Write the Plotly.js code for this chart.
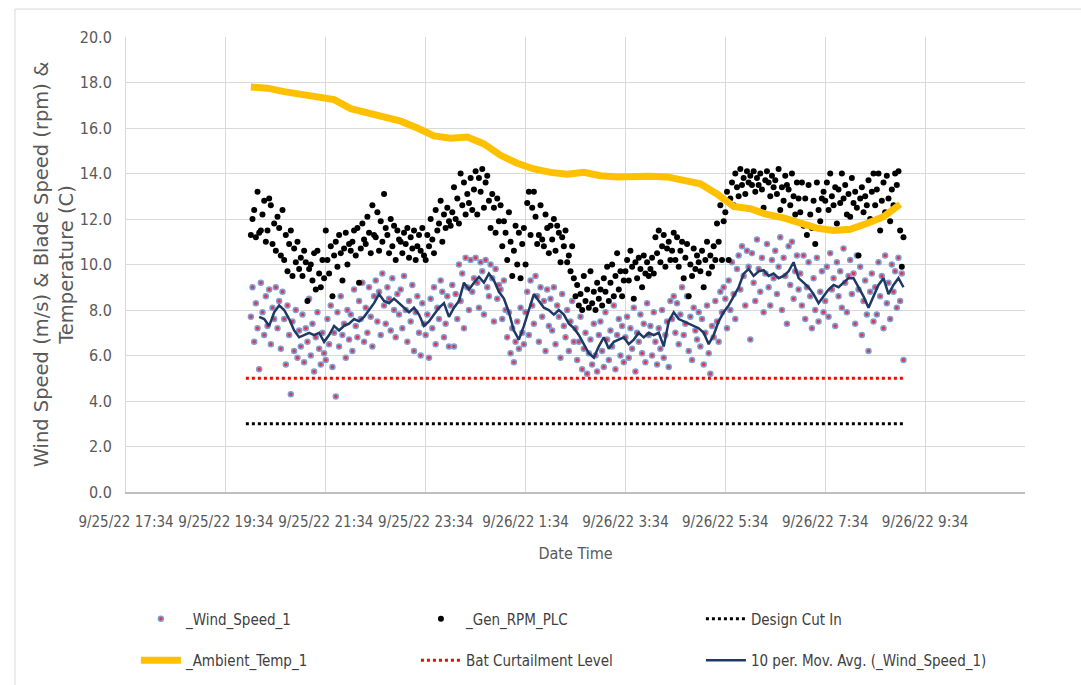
<!DOCTYPE html>
<html>
<head>
<meta charset="utf-8">
<script src="https://cdn.plot.ly/plotly-3.0.1.min.js"></script>
<style>html,body{margin:0;padding:0;background:#fff;}#chart{width:1081px;height:685px;}</style>
</head>
<body>
<div id="chart"></div>
<script>
// ---- data ----
const seriesStart = '2022-09-25 20:04';   // first logged sample
const sampleStepMin = 2;                   // minutes between plotted samples

const windSpeed = [
  7.7, 9.0, 6.6, 8.3, 7.2, 5.4, 9.2, 7.9, 6.9, 8.6, 7.3, 8.9, 6.5, 8.1, 7.6,
  9.0, 7.2, 8.4, 6.3, 8.8, 7.6, 5.6, 8.2, 6.9, 4.3, 7.5, 6.2, 8.0, 5.9, 7.1,
  6.4, 7.8, 5.7, 7.2, 6.6, 8.5, 6.0, 7.4, 5.3, 6.8, 7.9, 6.3, 5.6, 7.0, 6.1,
  5.8, 7.6, 6.5, 8.2, 5.5, 7.0, 4.2, 7.9, 6.4, 8.6, 6.9, 7.4, 5.9, 8.0, 6.7,
  7.8, 6.2, 8.9, 7.3, 6.8, 8.4, 7.6, 9.2, 6.6, 8.1, 7.0, 9.0, 7.7, 6.4, 8.6,
  9.3, 7.5, 8.8, 6.9, 9.6, 8.2, 7.4, 9.0, 8.5, 7.1, 9.4, 8.0, 6.8, 8.7, 7.8,
  8.9, 7.2, 9.5, 8.0, 6.6, 8.4, 7.5, 9.1, 6.2, 7.9, 8.6, 7.0, 6.0, 8.3, 7.4,
  6.9, 7.8, 5.9, 8.5, 7.2, 9.0, 6.5, 8.1, 7.6, 9.3, 8.8, 6.8, 7.4, 8.6, 6.4,
  8.2, 9.1, 6.4, 8.7, 7.6, 10.0, 8.4, 9.6, 7.2, 10.3, 9.0, 8.0, 10.2, 8.8, 9.4,
  10.3, 9.2, 8.1, 10.1, 9.7, 7.8, 10.2, 9.0, 8.6, 10.0, 9.4, 7.5, 9.8, 8.5, 9.1,
  8.9, 7.6, 9.3, 8.0, 6.8, 7.9, 6.1, 7.2, 5.7, 6.6, 7.5, 6.3, 8.1, 7.0, 6.5,
  7.9, 8.8, 6.9, 9.3, 8.2, 7.4, 9.5, 8.6, 6.6, 9.0, 7.7, 8.4, 6.2, 8.9, 7.3,
  8.5, 7.1, 9.0, 6.5, 8.2, 7.7, 5.9, 8.7, 7.3, 6.8, 8.0, 6.2, 7.5, 8.4, 6.6,
  7.2, 5.8, 6.6, 7.7, 5.4, 6.3, 7.0, 5.2, 6.1, 6.7, 5.6, 7.4, 6.0, 5.3, 6.9,
  7.5, 6.2, 5.5, 7.9, 6.7, 5.8, 7.1, 6.4, 8.2, 5.4, 6.9, 7.6, 6.0, 7.3, 5.7,
  6.8, 7.7, 5.9, 7.2, 6.3, 8.1, 5.3, 7.0, 6.6, 7.8, 6.1, 7.4, 5.7, 8.3, 6.9,
  7.3, 6.0, 7.9, 6.6, 5.6, 7.2, 6.3, 8.0, 5.9, 6.9, 7.5, 5.5, 8.4, 7.6, 8.6,
  7.0, 8.3, 6.5, 7.8, 9.0, 6.9, 7.4, 8.6, 6.2, 7.7, 5.8, 8.1, 7.1, 6.7, 7.9,
  6.4, 7.6, 5.6, 7.0, 8.2, 6.1, 5.2, 7.3, 6.8, 8.4, 7.5, 6.6, 8.8, 7.9, 9.0,
  8.5, 7.2, 9.3, 8.0, 10.1, 8.7, 7.6, 9.8, 10.4, 8.9, 10.8, 9.5, 8.2, 10.6, 9.9,
  6.7, 10.5, 9.2, 8.4, 11.1, 9.8, 8.8, 10.3, 7.9, 9.6, 10.9, 9.0, 8.2, 10.2, 9.4,
  10.6, 8.7, 9.9, 11.2, 8.0, 10.3, 9.5, 7.4, 10.8, 9.1, 11.0, 8.5, 9.7, 10.4, 8.9,
  9.6, 8.2, 10.4, 7.6, 9.0, 10.1, 8.6, 7.2, 9.4, 8.0, 10.3, 7.5, 8.8, 9.7, 7.9,
  8.4, 9.9, 7.7, 10.5, 8.9, 9.4, 7.3, 10.1, 8.6, 9.7, 8.1, 10.7, 9.2, 7.9, 9.5,
  10.2, 8.7, 9.6, 7.4, 10.4, 8.9, 9.9, 6.9, 8.4, 9.3, 7.8, 6.2, 8.8, 9.6, 7.5,
  9.0, 7.8, 10.1, 8.6, 9.5, 7.2, 10.4, 8.3, 9.2, 7.6, 10.0, 8.8, 9.7, 8.1, 10.3,
  8.4, 9.6, 5.8
];

const genRpm = [
  11.3, 12.0, 12.4, 11.2, 13.2, 11.4, 11.5, 12.2, 12.8, 11.0, 11.5, 12.9, 12.6, 10.9, 11.8,
  10.6, 12.1, 11.6, 10.4, 12.4, 10.2, 11.3, 9.7, 10.9, 11.5, 9.5, 10.7, 10.1, 11.0, 9.8,
  10.3, 9.5, 10.6, 10.1, 8.4, 9.8, 10.0, 9.3, 10.5, 8.9, 10.6, 9.6, 9.0, 10.2, 9.4,
  11.5, 10.2, 9.6, 10.8, 8.6, 10.4, 11.0, 9.9, 11.3, 10.5, 9.3, 10.7, 11.4, 10.0, 10.9,
  10.6, 11.0, 11.5, 10.4, 11.6, 9.2, 10.7, 11.8, 11.1, 10.9, 12.1, 11.4, 10.5, 12.6, 11.3,
  11.2, 12.3, 10.6, 11.9, 11.0, 13.1, 11.6, 11.3, 10.5, 12.0, 10.8, 11.7, 10.2, 11.5, 11.1,
  11.0, 10.5, 11.4, 10.9, 11.6, 10.3, 11.2, 10.7, 11.5, 10.2, 10.8, 11.3, 10.6, 11.6, 10.4,
  10.2, 11.3, 10.8, 12.0, 11.1, 10.5, 12.4, 11.5, 11.8, 12.8, 11.0, 12.2, 11.6, 12.5, 11.9,
  11.7, 12.3, 13.4, 12.0, 12.9, 11.8, 14.0, 12.6, 13.6, 12.2, 13.1, 12.7, 13.8, 12.4, 13.3,
  14.1, 12.2, 13.8, 13.2, 14.2, 12.5, 13.6, 13.9, 12.8, 11.6, 13.1, 12.5, 11.4, 12.9, 11.9,
  12.6, 10.8, 11.9, 11.4, 10.2, 12.3, 11.0, 9.5, 10.6, 11.7, 10.0, 11.4, 9.4, 10.9, 11.6,
  10.0, 12.7, 13.2, 11.3, 12.5, 13.2, 12.1, 10.9, 11.3, 12.6, 11.1, 10.8, 12.2, 11.6, 10.5,
  11.7, 11.1, 12.0, 10.6, 11.7, 11.4, 10.1, 11.2, 10.8, 11.5, 10.1, 10.4, 9.7, 10.8, 9.4,
  8.6, 9.1, 8.2, 8.7, 8.0, 9.5, 8.4, 8.9, 8.1, 9.7, 8.3, 8.8, 8.0, 9.2, 8.5,
  8.9, 8.2, 9.4, 8.8, 9.9, 8.4, 9.2, 10.0, 8.6, 9.5, 10.5, 8.9, 9.7, 8.6, 9.3,
  9.7, 10.2, 9.3, 10.6, 9.9, 8.5, 10.1, 9.4, 10.3, 9.8, 9.0, 10.4, 9.6, 10.1, 9.5,
  9.8, 10.3, 9.6, 11.2, 10.5, 11.5, 10.1, 10.8, 11.3, 9.9, 10.7, 11.0, 10.2, 10.6, 11.4,
  10.2, 11.2, 9.9, 10.6, 11.0, 9.4, 10.3, 10.9, 8.6, 10.0, 9.5, 10.7, 9.8, 10.4, 10.1,
  9.7, 10.6, 9.0, 10.2, 11.0, 9.6, 10.4, 9.9, 10.8, 10.2, 11.8, 11.0, 12.6, 10.2, 11.9,
  12.3, 13.2, 10.2, 12.9, 13.6, 12.6, 14.0, 13.4, 13.0, 14.2, 13.5, 13.8, 13.1, 14.1, 13.6,
  13.9, 13.5, 14.1, 13.2, 13.8, 13.5, 14.0, 13.3, 12.5, 13.7, 14.1, 13.6, 13.0, 13.9, 13.4,
  13.7, 13.1, 14.2, 12.4, 13.4, 12.8, 13.9, 13.5, 13.3, 12.6, 14.0, 13.0, 12.2, 13.6, 12.9,
  12.3, 13.6, 11.7, 12.9, 11.3, 13.5, 12.2, 11.6, 12.8, 10.9, 13.6, 12.4, 11.9, 12.9, 13.2,
  12.8, 13.6, 12.4, 14.0, 13.0, 12.6, 13.4, 11.8, 13.3, 12.7, 14.0, 12.9, 13.5, 12.2, 13.1,
  12.1, 13.8, 12.7, 13.2, 12.5, 10.4, 12.9, 13.4, 12.3, 13.0, 12.6, 13.7, 12.0, 13.2, 14.0,
  12.6, 13.3, 14.0, 11.5, 12.8, 13.6, 12.3, 13.9, 12.9, 11.9, 13.3, 12.6, 14.0, 13.5, 14.1,
  11.5, 9.9, 11.2
];

const tempStart = '2022-09-25 20:04';
const tempStepMin = 20;
const ambientTemp = [
  17.8, 17.75, 17.6, 17.5, 17.42, 17.25, 16.85, 16.65, 16.45, 16.3,
  16.0, 15.65, 15.55, 15.6, 15.3, 14.8, 14.45, 14.2, 14.05, 13.97,
  14.05, 13.9, 13.85, 13.9, 13.88, 13.85, 13.7, 13.55, 13.1, 12.55,
  12.45, 12.2, 12.05, 11.85, 11.6, 11.5, 11.55, 11.8, 12.1, 12.65
];

const maStart = '2022-09-25 20:14';
const maStepMin = 6;
const movingAvg = [
  7.7, 7.6, 7.3, 7.9, 8.2, 8.0, 7.6, 7.1, 6.8, 6.9,
  7.0, 6.9, 7.0, 6.6, 6.9, 7.3, 7.1, 7.3, 7.4, 7.6,
  7.5, 7.7, 8.0, 8.3, 8.7, 8.4, 8.3, 8.5, 8.3, 8.1,
  7.9, 8.1, 7.8, 7.3, 7.5, 7.8, 8.1, 8.3, 7.7, 8.1,
  8.4, 9.2, 8.9, 9.2, 9.45, 9.2, 9.6, 9.3, 8.8, 8.5,
  7.9, 7.1, 6.7, 7.3, 8.0, 8.7, 8.4, 8.1, 8.0, 7.8,
  8.0, 7.8, 7.4, 7.2, 6.9, 6.5, 6.1, 5.9, 6.4, 6.8,
  6.3, 6.6, 6.7, 6.8, 6.5, 6.7, 7.0, 6.8, 7.0, 6.9,
  7.0, 6.4, 7.5, 7.9, 7.6, 7.5, 7.4, 7.3, 7.2, 7.0,
  6.5, 6.9, 7.5, 7.9, 8.2, 8.6, 9.0, 9.6, 9.8, 9.5,
  9.7, 9.75, 9.5, 9.6, 9.4, 9.5, 9.7, 10.1, 9.4, 9.2,
  9.0, 8.7, 8.3, 8.6, 8.9, 9.1, 9.0, 9.2, 9.4, 9.4,
  9.0, 8.6, 8.1, 8.6, 9.1, 9.4, 8.7, 9.1, 9.4, 9.0
];

const levelTimes = ['2022-09-25 19:58', '2022-09-26 09:09'];
const designCutIn = [3, 3];
const batCurtailment = [5, 5];

const tickTimes = ['2022-09-25 17:34', '2022-09-25 19:34', '2022-09-25 21:34', '2022-09-25 23:34',
  '2022-09-26 01:34', '2022-09-26 03:34', '2022-09-26 05:34', '2022-09-26 07:34', '2022-09-26 09:34'];
const tickLabels = ['9/25/22 17:34', '9/25/22 19:34', '9/25/22 21:34', '9/25/22 23:34',
  '9/26/22 1:34', '9/26/22 3:34', '9/26/22 5:34', '9/26/22 7:34', '9/26/22 9:34'];
const xRange = ['2022-09-25 17:34', '2022-09-26 11:34'];

// ---- helpers: timestamps for regularly logged samples ----
function timeline(start, stepMin, n) {
  const p = start.split(/[- :]/).map(Number);
  const t0 = Date.UTC(p[0], p[1] - 1, p[2], p[3], p[4]);
  const out = [];
  for (let i = 0; i < n; i++) {
    out.push(new Date(t0 + i * stepMin * 60000).toISOString().slice(0, 16).replace('T', ' '));
  }
  return out;
}
const sampleTimes = timeline(seriesStart, sampleStepMin, windSpeed.length);
const tempTimes = timeline(tempStart, tempStepMin, ambientTemp.length);
const maTimes = timeline(maStart, maStepMin, movingAvg.length);

const FONT = '"Liberation Sans Narrow", "DejaVu Sans Condensed", Arial, sans-serif';
const GREY = '#595959';

const traces = [
  { type: 'scatter', mode: 'markers', name: '_Wind_Speed_1', x: sampleTimes, y: windSpeed,
    marker: { size: 5, color: '#e2354f', line: { width: 1.5, color: '#7d9fd6' } },
    legend: 'legend', legendgroup: 'a' },
  { type: 'scatter', mode: 'markers', name: '_Gen_RPM_PLC', x: sampleTimes, y: genRpm,
    marker: { size: 6, color: '#000000' }, legend: 'legend2', legendgroup: 'b' },
  { type: 'scatter', mode: 'lines', name: 'Design Cut In', x: levelTimes, y: designCutIn,
    line: { color: '#000000', width: 3, dash: 'dot' }, legend: 'legend3', legendgroup: 'c' },
  { type: 'scatter', mode: 'lines', name: '_Ambient_Temp_1', x: tempTimes, y: ambientTemp,
    line: { color: '#ffc000', width: 7, shape: 'linear' }, legend: 'legend', legendgroup: 'd' },
  { type: 'scatter', mode: 'lines', name: 'Bat Curtailment Level', x: levelTimes, y: batCurtailment,
    line: { color: '#ff0000', width: 3, dash: 'dot' }, legend: 'legend2', legendgroup: 'e' },
  { type: 'scatter', mode: 'lines', name: '10 per. Mov. Avg. (_Wind_Speed_1)', x: maTimes, y: movingAvg,
    line: { color: '#1f3864', width: 2.5 }, legend: 'legend3', legendgroup: 'f' }
];

const legendBase = {
  orientation: 'v', yanchor: 'top', xanchor: 'left', y: -0.243,
  font: { family: FONT, size: 15, color: '#404040' }, bgcolor: 'rgba(0,0,0,0)',
  traceorder: 'grouped', tracegroupgap: 19, itemwidth: 40, itemclick: false
};

const layout = {
  width: 1081, height: 685,
  margin: { l: 126, r: 56, t: 37, b: 193, autoexpand: false },
  paper_bgcolor: '#ffffff', plot_bgcolor: '#ffffff',
  showlegend: true,
  xaxis: {
    type: 'date', range: xRange, tickmode: 'array', tickvals: tickTimes, ticktext: tickLabels,
    showgrid: true, gridcolor: '#d9d9d9', gridwidth: 1,
    showline: true, linecolor: '#bfbfbf', linewidth: 1.5, zeroline: false,
    ticks: '', ticklabelstandoff: 15,
    tickfont: { family: FONT, size: 15, color: GREY },
    title: { text: 'Date Time', font: { family: FONT, size: 16, color: GREY }, standoff: 18 }
  },
  yaxis: {
    range: [0, 20], dtick: 2, tick0: 0, tickformat: '.1f',
    showgrid: true, gridcolor: '#d9d9d9', gridwidth: 1,
    showline: true, linecolor: '#d9d9d9', zeroline: false,
    ticks: '', ticklabelstandoff: 10,
    tickfont: { family: FONT, size: 16, color: GREY },
    title: { text: 'Wind Speed (m/s) & Blade Speed (rpm) &<br>Temperature (C)',
      font: { family: '"DejaVu Sans", "Open Sans", sans-serif', size: 19.5, color: GREY }, standoff: 0 }
  },
  legend: Object.assign({}, legendBase, { x: 0.011 }),
  legend2: Object.assign({}, legendBase, { x: 0.3225 }),
  legend3: Object.assign({}, legendBase, { x: 0.6395 }),
  shapes: [
    { type: 'line', xref: 'paper', yref: 'paper', x0: -0.1235, x1: 1.07, y0: 1.0615, y1: 1.0615,
      line: { color: '#d9d9d9', width: 1 } },
    { type: 'line', xref: 'paper', yref: 'paper', x0: -0.1235, x1: -0.1235, y0: -0.43, y1: 1.0615,
      line: { color: '#d9d9d9', width: 1 } }
  ]
};

Plotly.newPlot('chart', traces, layout, { displayModeBar: false, staticPlot: true });
</script>
</body>
</html>
